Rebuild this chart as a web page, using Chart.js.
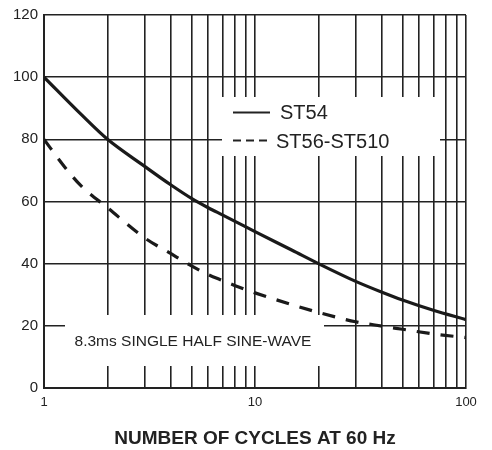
<!DOCTYPE html>
<html>
<head>
<meta charset="utf-8">
<script src="https://cdn.jsdelivr.net/npm/chart.js@4.4.1/dist/chart.umd.min.js"></script>
<style>
  html, body { margin: 0; padding: 0; background: #fff; }
  #wrap { width: 492px; height: 450px; }
</style>
</head>
<body>
<div id="wrap"><canvas id="c" width="492" height="450"></canvas></div>
<script>
// ---- data ----
const cyclesA = [1, 1.5, 2, 3, 4, 5, 6, 7, 8, 10, 15, 20, 30, 40, 50, 70, 100];
const st54    = [100, 88, 80, 71.3, 65.3, 61, 58, 55.7, 53.7, 50.3, 44.3, 40, 34.3, 30.8, 28.3, 25, 22];
const cyclesB = [1, 1.25, 1.5, 2, 3, 4, 5, 6, 7, 8, 10, 15, 20, 30, 40, 50, 70, 100];
const st56    = [80, 71.2, 65, 58, 48.3, 43.2, 39.3, 36.5, 34.6, 33, 30.6, 26.8, 24.3, 21.3, 19.9, 18.9, 17.4, 16.2];
const seriesNames = ['ST54', 'ST56-ST510'];
const xGridValues = [1, 2, 3, 4, 5, 6, 7, 8, 9, 10, 20, 30, 40, 50, 60, 70, 80, 90, 100];
const xTickLabels = [1, 10, 100];
const yTicks = [0, 20, 40, 60, 80, 100, 120];
const xTitle = 'NUMBER OF CYCLES AT 60 Hz';
const noteText = '8.3ms SINGLE HALF SINE-WAVE';

const INK = '#222';
const FONT = "'Liberation Sans', Arial, Helvetica, sans-serif";

const boxesPlugin = {
  id: 'boxes',
  beforeDatasetsDraw(chart) {
    const ctx = chart.ctx;
    ctx.save();
    ctx.fillStyle = '#fff';
    // legend box
    ctx.fillRect(222, 97, 218, 59);
    // note box
    ctx.fillRect(65, 315, 259, 51);

    // legend content
    ctx.strokeStyle = INK;
    ctx.lineWidth = 1.8;
    ctx.beginPath();
    ctx.moveTo(233, 112.5);
    ctx.lineTo(270, 112.5);
    ctx.stroke();
    ctx.setLineDash([8, 5]);
    ctx.beginPath();
    ctx.moveTo(233, 140.5);
    ctx.lineTo(268, 140.5);
    ctx.stroke();
    ctx.setLineDash([]);

    ctx.fillStyle = INK;
    ctx.textBaseline = 'middle';
    ctx.textAlign = 'left';
    ctx.font = '20px ' + FONT;
    ctx.fillText(seriesNames[0], 280, 113);
    ctx.fillText(seriesNames[1], 276, 142);

    // note text
    ctx.font = '15.5px ' + FONT;
    ctx.textAlign = 'center';
    ctx.fillText(noteText, 193, 342);
    ctx.restore();
  }
};

new Chart(document.getElementById('c'), {
  type: 'line',
  data: {
    datasets: [
      {
        label: seriesNames[0],
        data: cyclesA.map((x, i) => ({ x: x, y: st54[i] })),
        borderColor: '#1a1a1a',
        borderWidth: 3.2,
        pointRadius: 0,
        fill: false,
        cubicInterpolationMode: 'monotone'
      },
      {
        label: seriesNames[1],
        data: cyclesB.map((x, i) => ({ x: x, y: st56[i] })),
        borderColor: '#1a1a1a',
        borderWidth: 3.2,
        borderDash: [13, 11],
        pointRadius: 0,
        fill: false,
        cubicInterpolationMode: 'monotone'
      }
    ]
  },
  options: {
    responsive: false,
    animation: false,
    devicePixelRatio: 1,
    layout: { padding: { left: 0, top: 9, right: 26, bottom: 0 } },
    plugins: {
      legend: { display: false },
      tooltip: { enabled: false }
    },
    scales: {
      x: {
        type: 'logarithmic',
        min: 1,
        max: 100,
        afterBuildTicks(scale) {
          scale.ticks = xGridValues.map(v => ({ value: v }));
        },
        afterFit(scale) { scale.height = 62; },
        grid: {
          color: INK,
          lineWidth: 1.6,
          drawTicks: false
        },
        border: { display: true, color: INK, width: 2 },
        ticks: {
          autoSkip: false,
          maxRotation: 0,
          padding: 7,
          color: INK,
          font: { family: FONT, size: 13 },
          callback: (v) => xTickLabels.includes(v) ? String(v) : ''
        },
        title: {
          display: true,
          text: xTitle,
          color: INK,
          font: { family: FONT, size: 19, weight: 'bold' },
          padding: { top: 0, bottom: 0 }
        }
      },
      y: {
        type: 'linear',
        min: 0,
        max: 120,
        afterBuildTicks(scale) {
          scale.ticks = yTicks.map(v => ({ value: v }));
        },
        afterFit(scale) { scale.width = 44; },
        grid: {
          color: INK,
          lineWidth: 1.6,
          drawTicks: false
        },
        border: { display: true, color: INK, width: 2 },
        ticks: {
          padding: 6,
          color: INK,
          font: { family: FONT, size: 15 }
        }
      }
    }
  },
  plugins: [boxesPlugin]
});
</script>
</body>
</html>
